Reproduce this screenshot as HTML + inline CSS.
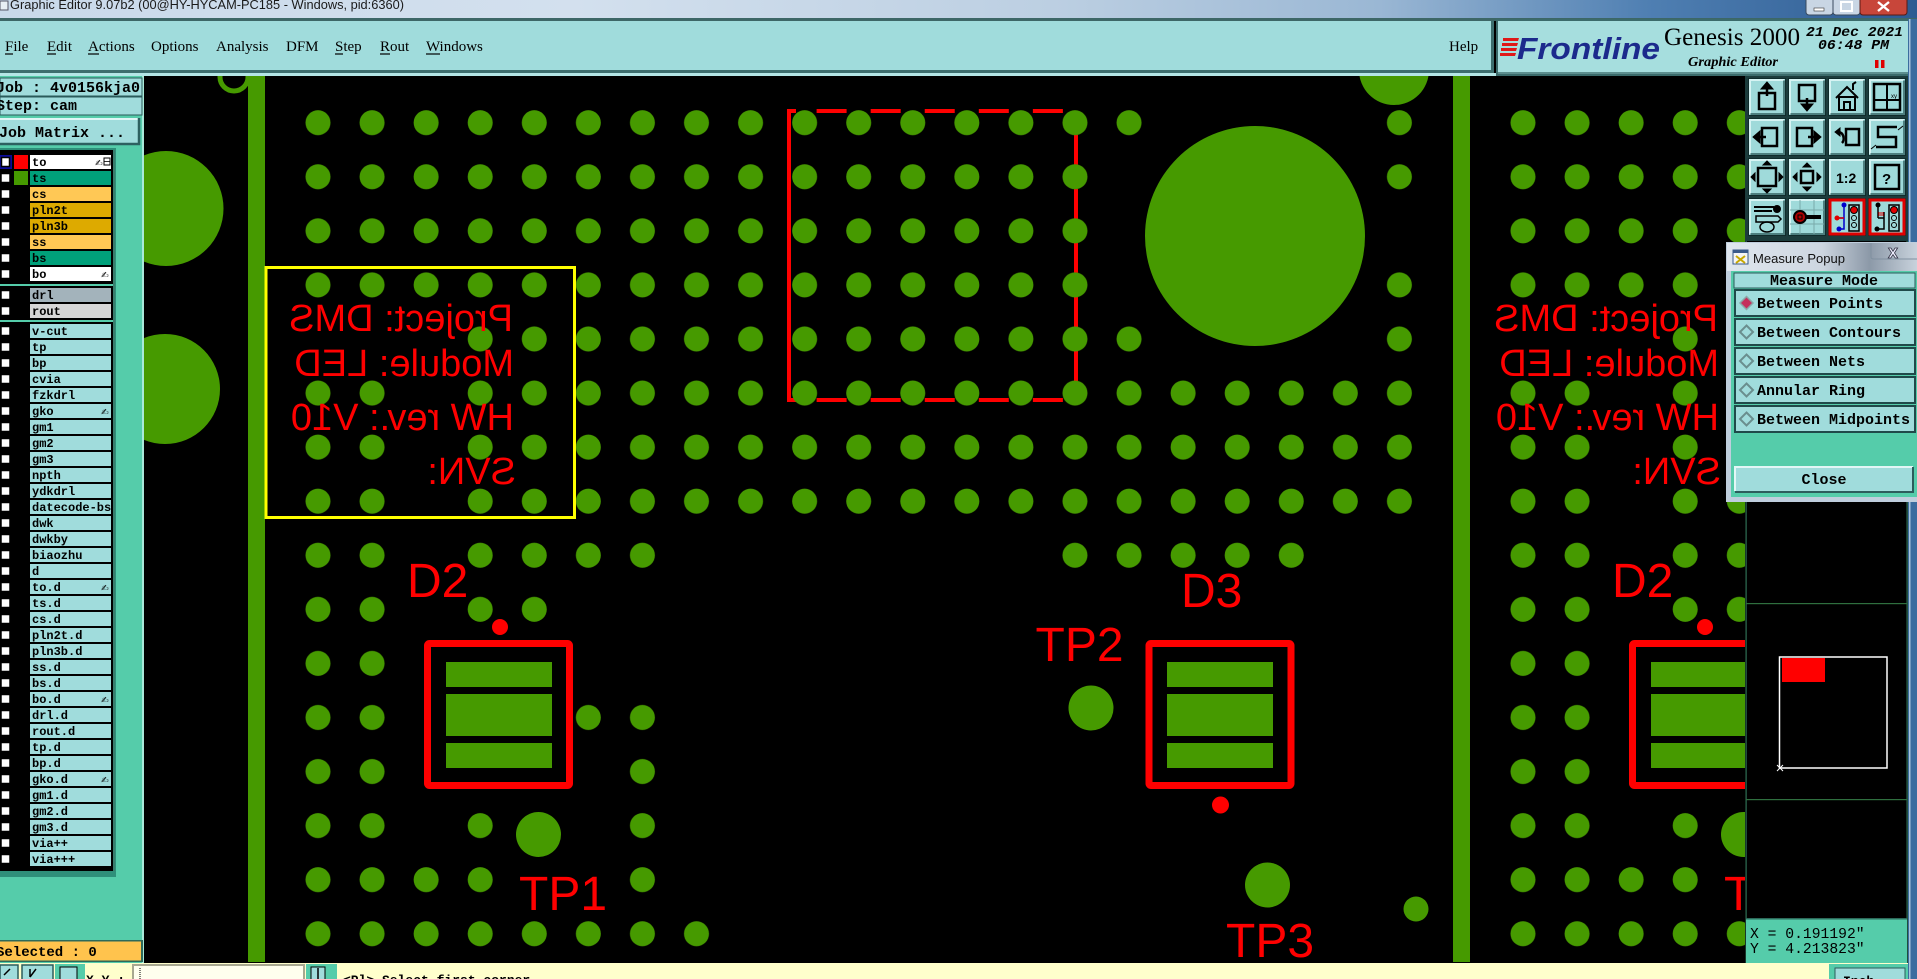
<!DOCTYPE html>
<html><head><meta charset="utf-8"><title>Genesis 2000 Graphic Editor</title>
<style>
html,body{margin:0;padding:0;background:#000;overflow:hidden;width:1917px;height:979px;}
svg{display:block;}
</style></head><body>
<svg width="1917" height="979" viewBox="0 0 1917 979" xmlns="http://www.w3.org/2000/svg" xmlns:xlink="http://www.w3.org/1999/xlink">
<defs>
  <pattern id="dots" patternUnits="userSpaceOnUse" x="290.965" y="95.665" width="54.07" height="54.07">
    <circle cx="27.035" cy="27.035" r="12.5" fill="#469a00"/>
  </pattern>
  <linearGradient id="tb" x1="0" x2="1" y1="0" y2="0">
    <stop offset="0" stop-color="#c9d9ea"/>
    <stop offset="0.3" stop-color="#d3e0ee"/>
    <stop offset="0.55" stop-color="#bccfe2"/>
    <stop offset="0.72" stop-color="#9ab7d4"/>
    <stop offset="0.86" stop-color="#4f7fb2"/>
    <stop offset="1" stop-color="#2d5b92"/>
  </linearGradient>
  <linearGradient id="ptb" x1="0" x2="1" y1="0" y2="0">
    <stop offset="0" stop-color="#dfe6ee"/>
    <stop offset="0.5" stop-color="#cdd6e0"/>
    <stop offset="0.75" stop-color="#8c99a8"/>
    <stop offset="1" stop-color="#c8d2dc"/>
  </linearGradient>
  <clipPath id="cv"><rect x="144" y="76" width="1601" height="887"/></clipPath>
  <clipPath id="rc"><rect x="1471" y="76" width="274" height="887"/></clipPath>
  <g id="btn">
    <rect x="0.5" y="0.5" width="37" height="37" fill="#9fdada" stroke="#102c2c"/>
    <path d="M2 36V2H36" stroke="#d6f3f3" stroke-width="2" fill="none"/>
    <path d="M2.5 36H36V2.5" stroke="#4d7f7f" stroke-width="2" fill="none"/>
  </g>
</defs>

<!-- ============ TITLE BAR ============ -->
<rect x="0" y="0" width="1917" height="19" fill="url(#tb)"/>
<rect x="0" y="1" width="8" height="9" fill="#e8eef4" stroke="#556" stroke-width="1"/>
<text x="10" y="9" font-family="Liberation Sans, sans-serif" font-size="13" fill="#1a1a1a" textLength="394" lengthAdjust="spacingAndGlyphs">Graphic Editor 9.07b2 (00@HY-HYCAM-PC185 - Windows, pid:6360)</text>
<g>
  <rect x="1806" y="-3" width="27" height="18" rx="3" fill="#c9d6e4" stroke="#3a4a5e"/>
  <rect x="1833" y="-3" width="27" height="18" rx="3" fill="#c9d6e4" stroke="#3a4a5e"/>
  <rect x="1860" y="-3" width="47" height="18" rx="3" fill="#c8463a" stroke="#5a1a14"/>
  <rect x="1814" y="8" width="10" height="3" fill="#fff" stroke="#333" stroke-width="0.6"/>
  <rect x="1841" y="2" width="11" height="9" fill="none" stroke="#fff" stroke-width="2"/>
  <path d="M1878 2L1889 11M1889 2L1878 11" stroke="#fff" stroke-width="2.4"/>
</g>

<!-- ============ MENU BAR ============ -->
<rect x="0" y="18" width="1917" height="3" fill="#3d6767"/>
<rect x="0" y="21" width="1493" height="49" fill="#a0dcdc"/>
<rect x="0" y="70" width="1493" height="3" fill="#3d6e6e"/>
<rect x="0" y="73" width="1745" height="3" fill="#b4e6e6"/>
<rect x="1491" y="21" width="3" height="52" fill="#3d6e6e"/>
<g font-family="Liberation Serif, serif" font-size="15" fill="#000">
  <text x="5" y="51">File</text>
  <text x="47" y="51">Edit</text>
  <text x="88" y="51">Actions</text>
  <text x="151" y="51">Options</text>
  <text x="216" y="51">Analysis</text>
  <text x="286" y="51">DFM</text>
  <text x="335" y="51">Step</text>
  <text x="380" y="51">Rout</text>
  <text x="426" y="51">Windows</text>
  <text x="1449" y="51">Help</text>
</g>
<g stroke="#000" stroke-width="1.2">
  <line x1="5" y1="54" x2="13" y2="54"/>
  <line x1="47" y1="54" x2="56" y2="54"/>
  <line x1="88" y1="54" x2="99" y2="54"/>
  <line x1="335" y1="54" x2="343" y2="54"/>
  <line x1="380" y1="54" x2="390" y2="54"/>
  <line x1="426" y1="54" x2="440" y2="54"/>
</g>

<!-- Logo panel -->
<rect x="1496" y="19" width="421" height="57" fill="#3b6b6b"/>
<rect x="1498" y="21" width="419" height="53" fill="#a6dede"/>
<rect x="1498" y="72" width="419" height="2" fill="#5d8f8f"/>
<g fill="#e01818">
  <path d="M1503 38h16l-1 3h-15z"/>
  <path d="M1502 43h16l-1 3h-15z"/>
  <path d="M1501 48h16l-1 3h-15z"/>
  <path d="M1500 53h16l-1 3h-15z"/>
</g>
<text x="1517" y="59" font-family="Liberation Sans, sans-serif" font-size="31" font-weight="bold" font-style="italic" fill="#1c2a8c" textLength="143" lengthAdjust="spacingAndGlyphs">Frontline</text>
<text x="1664" y="45" font-family="Liberation Serif, serif" font-size="25" fill="#000" textLength="136" lengthAdjust="spacingAndGlyphs">Genesis 2000</text>
<text x="1688" y="66" font-family="Liberation Serif, serif" font-size="13.5" font-weight="bold" font-style="italic" fill="#000" textLength="90" lengthAdjust="spacingAndGlyphs">Graphic Editor</text>
<text x="1806" y="36" font-family="Liberation Mono, monospace" font-size="14" font-style="italic" font-weight="bold" fill="#000" textLength="97" lengthAdjust="spacingAndGlyphs">21 Dec 2021</text>
<text x="1818" y="49" font-family="Liberation Mono, monospace" font-size="14" font-style="italic" font-weight="bold" fill="#000" textLength="71" lengthAdjust="spacingAndGlyphs">06:48 PM</text>
<rect x="1875" y="60" width="3.5" height="8" fill="#e00000"/>
<rect x="1881" y="60" width="3.5" height="8" fill="#e00000"/>

<!-- ============ LEFT PANEL ============ -->
<rect x="0" y="76" width="144" height="888" fill="#55ccaa"/>
<rect x="142" y="76" width="2" height="888" fill="#a9e9d9"/>
<rect x="0" y="78" width="142" height="18" fill="#a0dcdc" stroke="#2a5a5a" stroke-width="1"/>
<rect x="0" y="97" width="142" height="18" fill="#a0dcdc" stroke="#2a5a5a" stroke-width="1"/>
<g font-family="Liberation Mono, monospace" font-size="15" font-weight="bold" fill="#000">
  <text x="-4" y="92">Job : 4v0156kja0</text>
  <text x="-4" y="110">Step: cam</text>
</g>
<rect x="0" y="118" width="139" height="27" fill="#a0dcdc"/>
<path d="M0 119H138" stroke="#e0f6f6" stroke-width="2"/>
<path d="M0 144H139V118" stroke="#2d6060" stroke-width="2.5" fill="none"/>
<text x="-1" y="137" font-family="Liberation Mono, monospace" font-size="15" font-weight="bold" fill="#000">Job Matrix ...</text>

<!-- layer list -->
<rect x="0" y="148" width="116" height="729" fill="#2f8f7a"/>
<rect x="0" y="150" width="113" height="721" fill="#000"/>
<rect x="113" y="150" width="2" height="721" fill="#3a7d6d"/>
<rect x="0" y="284" width="113" height="2" fill="#55ccaa"/>
<rect x="0" y="320" width="113" height="2" fill="#55ccaa"/>

<g font-family="Liberation Mono, monospace" font-size="12" font-weight="bold" fill="#000">
  <rect x="30" y="155" width="81" height="14" fill="#ffffff"/>
  <rect x="30" y="171" width="81" height="14" fill="#00a07a"/>
  <rect x="30" y="187" width="81" height="14" fill="#ffc855"/>
  <rect x="30" y="203" width="81" height="14" fill="#ddaa00"/>
  <rect x="30" y="219" width="81" height="14" fill="#ddaa00"/>
  <rect x="30" y="235" width="81" height="14" fill="#ffc855"/>
  <rect x="30" y="251" width="81" height="14" fill="#00a07a"/>
  <rect x="30" y="267" width="81" height="14" fill="#ffffff"/>
  <rect x="30" y="288" width="81" height="14" fill="#a3b3bb"/>
  <rect x="30" y="304" width="81" height="14" fill="#d6d6d6"/>
  <rect x="14" y="155" width="14" height="14" fill="#ff0000"/>
  <rect x="14" y="171" width="14" height="14" fill="#469a00"/>
  <rect x="0" y="155" width="12" height="14" fill="#0a0a9a"/>
  <text x="32" y="166">to</text>
  <text x="32" y="182">ts</text>
  <text x="32" y="198">cs</text>
  <text x="32" y="214">pln2t</text>
  <text x="32" y="230">pln3b</text>
  <text x="32" y="246">ss</text>
  <text x="32" y="262">bs</text>
  <text x="32" y="278">bo</text>
  <text x="32" y="299">drl</text>
  <text x="32" y="315">rout</text>
  <g fill="#a0dcdc">
    <rect x="30" y="324" width="81" height="14"/><rect x="30" y="340" width="81" height="14"/>
    <rect x="30" y="356" width="81" height="14"/><rect x="30" y="372" width="81" height="14"/>
    <rect x="30" y="388" width="81" height="14"/><rect x="30" y="404" width="81" height="14"/>
    <rect x="30" y="420" width="81" height="14"/><rect x="30" y="436" width="81" height="14"/>
    <rect x="30" y="452" width="81" height="14"/><rect x="30" y="468" width="81" height="14"/>
    <rect x="30" y="484" width="81" height="14"/><rect x="30" y="500" width="81" height="14"/>
    <rect x="30" y="516" width="81" height="14"/><rect x="30" y="532" width="81" height="14"/>
    <rect x="30" y="548" width="81" height="14"/><rect x="30" y="564" width="81" height="14"/>
    <rect x="30" y="580" width="81" height="14"/><rect x="30" y="596" width="81" height="14"/>
    <rect x="30" y="612" width="81" height="14"/><rect x="30" y="628" width="81" height="14"/>
    <rect x="30" y="644" width="81" height="14"/><rect x="30" y="660" width="81" height="14"/>
    <rect x="30" y="676" width="81" height="14"/><rect x="30" y="692" width="81" height="14"/>
    <rect x="30" y="708" width="81" height="14"/><rect x="30" y="724" width="81" height="14"/>
    <rect x="30" y="740" width="81" height="14"/><rect x="30" y="756" width="81" height="14"/>
    <rect x="30" y="772" width="81" height="14"/><rect x="30" y="788" width="81" height="14"/>
    <rect x="30" y="804" width="81" height="14"/><rect x="30" y="820" width="81" height="14"/>
    <rect x="30" y="836" width="81" height="14"/><rect x="30" y="852" width="81" height="14"/>
  </g>
  <text x="32" y="335">v-cut</text>
  <text x="32" y="351">tp</text>
  <text x="32" y="367">bp</text>
  <text x="32" y="383">cvia</text>
  <text x="32" y="399">fzkdrl</text>
  <text x="32" y="415">gko</text>
  <text x="32" y="431">gm1</text>
  <text x="32" y="447">gm2</text>
  <text x="32" y="463">gm3</text>
  <text x="32" y="479">npth</text>
  <text x="32" y="495">ydkdrl</text>
  <text x="32" y="511">datecode-bs</text>
  <text x="32" y="527">dwk</text>
  <text x="32" y="543">dwkby</text>
  <text x="32" y="559">biaozhu</text>
  <text x="32" y="575">d</text>
  <text x="32" y="591">to.d</text>
  <text x="32" y="607">ts.d</text>
  <text x="32" y="623">cs.d</text>
  <text x="32" y="639">pln2t.d</text>
  <text x="32" y="655">pln3b.d</text>
  <text x="32" y="671">ss.d</text>
  <text x="32" y="687">bs.d</text>
  <text x="32" y="703">bo.d</text>
  <text x="32" y="719">drl.d</text>
  <text x="32" y="735">rout.d</text>
  <text x="32" y="751">tp.d</text>
  <text x="32" y="767">bp.d</text>
  <text x="32" y="783">gko.d</text>
  <text x="32" y="799">gm1.d</text>
  <text x="32" y="815">gm2.d</text>
  <text x="32" y="831">gm3.d</text>
  <text x="32" y="847">via++</text>
  <text x="32" y="863">via+++</text>
</g>
<g font-family="DejaVu Sans, sans-serif" font-size="9" fill="#000">
  <text x="95" y="166">✍</text>
  <rect x="104" y="158" width="6" height="7" fill="none" stroke="#000" stroke-width="1"/>
  <line x1="104" y1="161.5" x2="110" y2="161.5" stroke="#000" stroke-width="0.8"/>
  <text x="101" y="278">✍</text>
  <text x="101" y="415">✍</text>
  <text x="101" y="591">✍</text>
  <text x="101" y="703">✍</text>
  <text x="101" y="783">✍</text>
</g>
<g fill="#fff" stroke="#000" stroke-width="1.5">
  <rect x="1.5" y="157.5" width="8" height="9"/>
  <rect x="1" y="173.5" width="9" height="9"/><rect x="1" y="189.5" width="9" height="9"/>
  <rect x="1" y="205.5" width="9" height="9"/><rect x="1" y="221.5" width="9" height="9"/>
  <rect x="1" y="237.5" width="9" height="9"/><rect x="1" y="253.5" width="9" height="9"/>
  <rect x="1" y="269.5" width="9" height="9"/>
  <rect x="1" y="290.5" width="9" height="9"/><rect x="1" y="306.5" width="9" height="9"/>
  <rect x="1" y="326.5" width="9" height="9"/><rect x="1" y="342.5" width="9" height="9"/>
  <rect x="1" y="358.5" width="9" height="9"/><rect x="1" y="374.5" width="9" height="9"/>
  <rect x="1" y="390.5" width="9" height="9"/><rect x="1" y="406.5" width="9" height="9"/>
  <rect x="1" y="422.5" width="9" height="9"/><rect x="1" y="438.5" width="9" height="9"/>
  <rect x="1" y="454.5" width="9" height="9"/><rect x="1" y="470.5" width="9" height="9"/>
  <rect x="1" y="486.5" width="9" height="9"/><rect x="1" y="502.5" width="9" height="9"/>
  <rect x="1" y="518.5" width="9" height="9"/><rect x="1" y="534.5" width="9" height="9"/>
  <rect x="1" y="550.5" width="9" height="9"/><rect x="1" y="566.5" width="9" height="9"/>
  <rect x="1" y="582.5" width="9" height="9"/><rect x="1" y="598.5" width="9" height="9"/>
  <rect x="1" y="614.5" width="9" height="9"/><rect x="1" y="630.5" width="9" height="9"/>
  <rect x="1" y="646.5" width="9" height="9"/><rect x="1" y="662.5" width="9" height="9"/>
  <rect x="1" y="678.5" width="9" height="9"/><rect x="1" y="694.5" width="9" height="9"/>
  <rect x="1" y="710.5" width="9" height="9"/><rect x="1" y="726.5" width="9" height="9"/>
  <rect x="1" y="742.5" width="9" height="9"/><rect x="1" y="758.5" width="9" height="9"/>
  <rect x="1" y="774.5" width="9" height="9"/><rect x="1" y="790.5" width="9" height="9"/>
  <rect x="1" y="806.5" width="9" height="9"/><rect x="1" y="822.5" width="9" height="9"/>
  <rect x="1" y="838.5" width="9" height="9"/><rect x="1" y="854.5" width="9" height="9"/>
</g>
<rect x="0" y="940" width="143" height="22" fill="#2d6a5a"/>
<rect x="0" y="941.5" width="141" height="19" fill="#ffc34d"/>
<text x="-4" y="956" font-family="Liberation Mono, monospace" font-size="14" font-weight="bold" fill="#000">Selected : 0</text>

<!-- ============ CANVAS ============ -->
<rect x="144" y="76" width="1601" height="887" fill="#000"/>
<g clip-path="url(#cv)">
  <g stroke="#ff0000" stroke-width="4" fill="none">
    <line x1="789" y1="110" x2="789" y2="402"/>
    <line x1="787" y1="111" x2="796" y2="111"/>
    <line x1="787" y1="400" x2="796" y2="400"/>
    <line x1="816.6" y1="111" x2="1076" y2="111" stroke-dasharray="30 24.07"/>
    <line x1="816.6" y1="400" x2="1076" y2="400" stroke-dasharray="30 24.07"/>
    <line x1="1076" y1="134.75" x2="1076" y2="400" stroke-dasharray="30 24.07"/>
  </g>

  <circle cx="166" cy="208.5" r="57.5" fill="#469a00"/>
  <circle cx="165" cy="389" r="55" fill="#469a00"/>
  <circle cx="234" cy="77" r="14" fill="none" stroke="#469a00" stroke-width="5"/>
  <rect x="248" y="76" width="17" height="886" fill="#469a00"/>
  <rect x="1453" y="76" width="17" height="886" fill="#469a00"/>

  <g id="pcb">
    <g fill="url(#dots)">
      <rect x="290.965" y="95.665" width="811.05" height="216.28"/>
      <rect x="1102.015" y="95.665" width="54.07" height="54.07"/>
      <rect x="453.175" y="311.945" width="702.91" height="54.07"/>
      <rect x="453.175" y="366.015" width="973.26" height="162.21"/>
      <rect x="1372.365" y="95.665" width="54.07" height="108.14"/>
      <rect x="1372.365" y="257.875" width="54.07" height="108.14"/>
      <rect x="290.965" y="366.015" width="108.14" height="594.77"/>
      <rect x="453.175" y="528.225" width="216.28" height="54.07"/>
      <rect x="1047.945" y="528.225" width="270.35" height="54.07"/>
      <rect x="453.175" y="582.295" width="108.14" height="54.07"/>
      <rect x="561.315" y="690.435" width="108.14" height="54.07"/>
      <rect x="615.385" y="744.505" width="54.07" height="162.21"/>
      <rect x="453.175" y="798.575" width="54.07" height="54.07"/>
      <rect x="399.105" y="852.645" width="108.14" height="54.07"/>
      <rect x="399.105" y="906.715" width="324.42" height="54.07"/>
    </g>
    <!-- mirrored silkscreen text -->
    <g transform="matrix(-1 0 0 1 1026 0)">
      <g fill="#ff0000" font-family="Liberation Sans, sans-serif" font-size="38">
        <text x="513" y="331">Project: DMS</text>
        <text x="512" y="376">Module: LED</text>
        <text x="512" y="430">HW rev.: V10</text>
        <text x="510" y="484">SVN:</text>
      </g>
    </g>
    <rect x="427.5" y="643.5" width="142" height="142" rx="2" fill="none" stroke="#ff0000" stroke-width="7"/>
    <rect x="446" y="662" width="106" height="25" fill="#469a00"/>
    <rect x="446" y="694" width="106" height="42" fill="#469a00"/>
    <rect x="446" y="743" width="106" height="25" fill="#469a00"/>
    <circle cx="500" cy="627" r="8" fill="#ff0000"/>
    <circle cx="538.5" cy="834.5" r="22.5" fill="#469a00"/>
    <g fill="#ff0000" font-family="Liberation Sans, sans-serif" font-size="48">
      <text x="407" y="597">D2</text>
      <text x="519" y="910">TP1</text>
    </g>
  </g>

  <rect x="266" y="267.5" width="308.5" height="250" fill="none" stroke="#ffff00" stroke-width="3"/>

  <circle cx="1255" cy="236" r="110" fill="#469a00"/>
  <circle cx="1394" cy="70" r="35" fill="#469a00"/>

  <rect x="1149" y="643.5" width="142" height="142" rx="2" fill="none" stroke="#ff0000" stroke-width="7"/>
  <rect x="1167" y="662" width="106" height="25" fill="#469a00"/>
  <rect x="1167" y="694" width="106" height="42" fill="#469a00"/>
  <rect x="1167" y="743" width="106" height="25" fill="#469a00"/>
  <circle cx="1220.5" cy="805" r="8.5" fill="#ff0000"/>
  <circle cx="1091" cy="708" r="22.5" fill="#469a00"/>
  <circle cx="1267.5" cy="885" r="22.5" fill="#469a00"/>
  <circle cx="1416" cy="909" r="12.5" fill="#469a00"/>
  <g fill="#ff0000" font-family="Liberation Sans, sans-serif" font-size="48">
    <text x="1181" y="607">D3</text>
    <text x="1035.5" y="661">TP2</text>
    <text x="1226" y="957">TP3</text>
  </g>

  <g clip-path="url(#rc)">
    <use xlink:href="#pcb" href="#pcb" transform="translate(1205,0)"/>
  </g>
</g>

<!-- ============ RIGHT COLUMN ============ -->
<rect x="1745" y="76" width="163" height="888" fill="#000"/>
<rect x="1745.5" y="240" width="1.2" height="724" fill="#2f6f55"/>
<rect x="1906.5" y="240" width="1.2" height="724" fill="#2f6f55"/>
<rect x="1908" y="19" width="9" height="960" fill="#3b6c9f"/>
<rect x="1909" y="19" width="1.5" height="960" fill="#a8c4dc"/>

<rect x="1745" y="76" width="163" height="165" fill="#1c3c3c"/>
<use href="#btn" xlink:href="#btn" x="1748" y="78"/>
<use href="#btn" xlink:href="#btn" x="1788" y="78"/>
<use href="#btn" xlink:href="#btn" x="1828" y="78"/>
<use href="#btn" xlink:href="#btn" x="1868" y="78"/>
<use href="#btn" xlink:href="#btn" x="1748" y="118"/>
<use href="#btn" xlink:href="#btn" x="1788" y="118"/>
<use href="#btn" xlink:href="#btn" x="1828" y="118"/>
<use href="#btn" xlink:href="#btn" x="1868" y="118"/>
<use href="#btn" xlink:href="#btn" x="1748" y="158"/>
<use href="#btn" xlink:href="#btn" x="1788" y="158"/>
<use href="#btn" xlink:href="#btn" x="1828" y="158"/>
<use href="#btn" xlink:href="#btn" x="1868" y="158"/>
<use href="#btn" xlink:href="#btn" x="1748" y="198"/>
<use href="#btn" xlink:href="#btn" x="1788" y="198"/>
<use href="#btn" xlink:href="#btn" x="1828" y="198"/>
<use href="#btn" xlink:href="#btn" x="1868" y="198"/>
<g stroke="#000" stroke-width="2.5" fill="none">
  <g transform="translate(1748,78)">
    <rect x="11" y="15" width="16" height="16"/>
    <path d="M19 4L13 11H25Z" fill="#000" stroke-width="1"/>
    <line x1="19" y1="10" x2="19" y2="18"/>
  </g>
  <g transform="translate(1788,78)">
    <rect x="11" y="7" width="16" height="16"/>
    <path d="M19 33L13 26H25Z" fill="#000" stroke-width="1"/>
    <line x1="19" y1="20" x2="19" y2="28"/>
  </g>
  <g transform="translate(1828,78)" stroke-width="2">
    <path d="M8 20L19 9L30 20"/>
    <rect x="11" y="19" width="16" height="13"/>
    <rect x="16" y="24" width="6" height="8"/>
    <path d="M25 12V6L28 4"/>
  </g>
  <g transform="translate(1868,78)">
    <rect x="6" y="6" width="26" height="26"/>
    <line x1="6" y1="22" x2="32" y2="22" stroke-width="2"/>
    <line x1="19" y1="6" x2="19" y2="32" stroke-width="2"/>
    <text x="23" y="20" font-family="Liberation Sans, sans-serif" font-size="6" fill="#000" stroke="none">xy</text>
  </g>
  <g transform="translate(1748,118)">
    <rect x="14" y="10" width="15" height="18"/>
    <path d="M5 19L12 13V25Z" fill="#000" stroke-width="1"/>
    <line x1="10" y1="19" x2="18" y2="19"/>
  </g>
  <g transform="translate(1788,118)">
    <rect x="9" y="10" width="15" height="18"/>
    <path d="M33 19L26 13V25Z" fill="#000" stroke-width="1"/>
    <line x1="20" y1="19" x2="28" y2="19"/>
  </g>
  <g transform="translate(1828,118)">
    <rect x="18" y="11" width="13" height="16"/>
    <path d="M14 25C17 22 16 14 10 14" stroke-width="2.5"/>
    <path d="M7 14L12 10V18Z" fill="#000" stroke-width="1"/>
  </g>
  <g transform="translate(1868,118)">
    <path d="M29 9H10V19H28V29H8"/>
    <path d="M30 12L35 8M8 27L3 31" stroke-width="1"/>
  </g>
  <g transform="translate(1748,158)">
    <rect x="10" y="10" width="18" height="18"/>
    <path d="M19 3L15 7H23Z M19 35L15 31H23Z M3 19L7 15V23Z M35 19L31 15V23Z" fill="#000" stroke-width="1"/>
  </g>
  <g transform="translate(1788,158)">
    <rect x="13" y="13" width="12" height="12"/>
    <path d="M19 5L15 9H23Z M19 33L15 29H23Z M5 19L9 15V23Z M33 19L29 15V23Z" fill="#000" stroke-width="1"/>
  </g>
  <g transform="translate(1828,158)">
    <text x="8" y="25" font-family="Liberation Sans, sans-serif" font-size="14" font-weight="bold" fill="#000" stroke="none">1:2</text>
  </g>
  <g transform="translate(1868,158)">
    <rect x="7" y="7" width="24" height="24"/>
    <text x="14" y="26" font-family="Liberation Sans, sans-serif" font-size="15" font-weight="bold" fill="#000" stroke="none">?</text>
  </g>
  <g transform="translate(1748,198)" stroke-width="2">
    <path d="M6 9H26M6 13H24"/>
    <circle cx="29" cy="11" r="3" fill="#000"/>
    <path d="M8 18H30L33 21L30 24H8Z" stroke-width="1.5"/>
    <ellipse cx="19" cy="29" rx="7" ry="5" stroke-width="1.5"/>
  </g>
  <g transform="translate(1788,198)">
    <path d="M2 12H36M2 26H36M12 2V36M26 2V36" stroke="#7aaaaa" stroke-width="1"/>
    <line x1="14" y1="19" x2="33" y2="19" stroke-width="4"/>
    <circle cx="12" cy="19" r="6" fill="#b00000" stroke="#000" stroke-width="2"/>
    <rect x="10" y="17" width="4" height="4" fill="none" stroke="#000" stroke-width="1"/>
  </g>
  <g transform="translate(1828,198)">
    <rect x="2" y="2" width="34" height="34" stroke="#e00000" stroke-width="3"/>
    <path d="M16 6V20H9M16 20V31H11" stroke="#0000cc" stroke-width="1.5"/>
    <circle cx="16" cy="7" r="2.5" fill="#0000cc" stroke="none"/>
    <circle cx="9" cy="20" r="2.5" fill="#e00000" stroke="none"/>
    <circle cx="11" cy="31" r="2.5" fill="#0000cc" stroke="none"/>
    <path d="M9 20H16" stroke="#e00000" stroke-width="1.5"/>
    <rect x="21" y="7" width="10" height="26" stroke-width="1.5"/>
    <circle cx="26" cy="12" r="3.5" fill="#e00000" stroke="#000" stroke-width="1"/>
    <circle cx="26" cy="20" r="2.5" stroke-width="1"/>
    <circle cx="26" cy="27" r="2.5" stroke-width="1"/>
  </g>
  <g transform="translate(1868,198)">
    <rect x="2" y="2" width="34" height="34" stroke="#e00000" stroke-width="3"/>
    <path d="M10 7V20M10 20H16M16 14V31H9" stroke="#000" stroke-width="1.5"/>
    <circle cx="10" cy="7" r="2.5" fill="#000" stroke="none"/>
    <circle cx="9" cy="31" r="2.5" fill="#000" stroke="none"/>
    <path d="M11 14V18M13 14V18M15 14V18" stroke="#e00000" stroke-width="1"/>
    <rect x="21" y="7" width="10" height="26" stroke-width="1.5"/>
    <circle cx="26" cy="12" r="3.5" fill="#e00000" stroke="#000" stroke-width="1"/>
    <circle cx="26" cy="20" r="2.5" stroke-width="1"/>
    <circle cx="26" cy="27" r="2.5" stroke-width="1"/>
  </g>
</g>

<!-- Measure popup -->
<rect x="1726" y="242" width="191" height="260" fill="#bfcedd"/>
<rect x="1727" y="243" width="190" height="28" fill="url(#ptb)"/>
<rect x="1733" y="250" width="15" height="14" fill="#f4f4f4" stroke="#3a5a8a" stroke-width="1"/>
<rect x="1733" y="250" width="15" height="3" fill="#3a5a8a"/>
<path d="M1736 256L1745 263M1745 256L1736 263" stroke="#c8a800" stroke-width="2"/>
<text x="1753" y="263" font-family="Liberation Sans, sans-serif" font-size="13" fill="#111" textLength="92" lengthAdjust="spacingAndGlyphs">Measure Popup</text>
<path d="M1871 243V257Q1871 259 1874 259H1917" fill="none" stroke="#8090a0" stroke-width="1"/>
<text x="1888" y="258" font-family="DejaVu Sans, sans-serif" font-size="13" font-weight="bold" fill="#eef" stroke="#334" stroke-width="0.8">X</text>
<rect x="1731" y="271" width="186" height="226" fill="#55ccaa"/>
<rect x="1734" y="273" width="181" height="15" fill="#a0dcdc" stroke="#2c5c5c" stroke-width="1"/>
<text x="1824" y="285" text-anchor="middle" font-family="Liberation Mono, monospace" font-size="15" font-weight="bold" fill="#000">Measure Mode</text>
<g fill="#a0dcdc" stroke="#1f4a4a" stroke-width="2">
  <rect x="1735" y="290" width="180" height="26"/>
  <rect x="1735" y="319" width="180" height="26"/>
  <rect x="1735" y="348" width="180" height="26"/>
  <rect x="1735" y="377" width="180" height="26"/>
  <rect x="1735" y="406" width="180" height="26"/>
</g>
<path d="M1746.5 296.5L1753 303L1746.5 309.5L1740 303Z" fill="#c4305c" stroke="#8aa8a8" stroke-width="1.5"/>
<g fill="none" stroke="#6a8e8e" stroke-width="2">
  <path d="M1746.5 325.5L1753 332L1746.5 338.5L1740 332Z"/>
  <path d="M1746.5 354.5L1753 361L1746.5 367.5L1740 361Z"/>
  <path d="M1746.5 383.5L1753 390L1746.5 396.5L1740 390Z"/>
  <path d="M1746.5 412.5L1753 419L1746.5 425.5L1740 419Z"/>
</g>
<g font-family="Liberation Mono, monospace" font-size="15" font-weight="bold" fill="#000">
  <text x="1757" y="308">Between Points</text>
  <text x="1757" y="337">Between Contours</text>
  <text x="1757" y="366">Between Nets</text>
  <text x="1757" y="395">Annular Ring</text>
  <text x="1757" y="424">Between Midpoints</text>
</g>
<rect x="1735" y="467" width="178" height="25" fill="#a0dcdc"/>
<path d="M1735 491V467H1913" stroke="#e2f6f6" stroke-width="2" fill="none"/>
<path d="M1735 492H1913V467" stroke="#2c5c5c" stroke-width="2" fill="none"/>
<text x="1824" y="484" text-anchor="middle" font-family="Liberation Mono, monospace" font-size="15" font-weight="bold" fill="#000">Close</text>

<!-- overview box -->
<rect x="1746" y="603" width="161" height="1.2" fill="#2f6f3f"/>
<rect x="1746" y="799" width="161" height="1.2" fill="#2f6f3f"/>
<rect x="1782" y="658" width="43" height="24" fill="#ff0000"/>
<rect x="1779.5" y="657" width="107.5" height="111" fill="none" stroke="#fff" stroke-width="1.5"/>
<path d="M1777 765L1783 771M1783 765L1777 771" stroke="#fff" stroke-width="1"/>

<!-- coordinates box -->
<rect x="1746" y="918" width="161" height="45" fill="#55ccaa"/>
<rect x="1746" y="918" width="161" height="1.5" fill="#2c6a5a"/>
<g font-family="Liberation Mono, monospace" font-size="14.7" fill="#000">
  <text x="1750" y="938">X = 0.191192"</text>
  <text x="1750" y="953">Y = 4.213823"</text>
</g>

<!-- ============ BOTTOM BAR ============ -->
<rect x="0" y="963" width="1908" height="16" fill="#ffffcc"/>
<g>
  <rect x="0" y="965" width="18" height="16" fill="#a0dcdc" stroke="#2c5c5c" stroke-width="1.5"/>
  <rect x="22" y="965" width="31" height="16" fill="#a0dcdc" stroke="#2c5c5c" stroke-width="1.5"/>
  <rect x="55" y="964" width="30" height="17" fill="#55ccaa"/>
  <rect x="60" y="967" width="17" height="13" fill="#a0dcdc" stroke="#000" stroke-width="1"/>
  <path d="M4 975L10 969M30 977L36 969M30 969V977" stroke="#000" stroke-width="1.5" fill="none"/>
  <text x="86" y="984" font-family="Liberation Mono, monospace" font-size="13" font-weight="bold" fill="#000">X Y :</text>
  <rect x="133" y="965" width="171" height="16" fill="#ffffee" stroke="#a8a890" stroke-width="2"/>
  <line x1="140" y1="968" x2="140" y2="979" stroke="#000" stroke-width="1" stroke-dasharray="1 1"/>
  <rect x="306" y="964" width="31" height="17" fill="#55ccaa"/>
  <rect x="311" y="967" width="14" height="13" fill="#a0dcdc" stroke="#000" stroke-width="1"/>
  <line x1="318" y1="968" x2="318" y2="979" stroke="#000" stroke-width="1.5"/>
  <text x="343" y="984" font-family="Liberation Mono, monospace" font-size="13" font-weight="bold" fill="#000">&lt;Pl&gt;  Select first corner</text>
  <rect x="1829" y="964" width="79" height="17" fill="#55ccaa"/>
  <rect x="1835" y="968" width="70" height="13" fill="#a0dcdc" stroke="#2c5c5c" stroke-width="1"/>
  <text x="1843" y="985" font-family="Liberation Mono, monospace" font-size="13" font-weight="bold" fill="#000">Inch</text>
</g>
</svg>
</body></html>
